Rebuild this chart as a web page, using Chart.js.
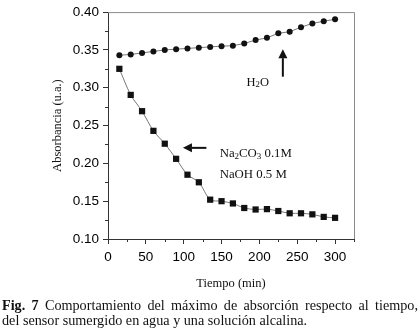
<!DOCTYPE html>
<html>
<head>
<meta charset="utf-8">
<script src="https://cdn.jsdelivr.net/npm/chart.js@4"></script>
<style>
  html, body { margin: 0; padding: 0; background: #fff; }
  #wrap { position: relative; width: 420px; height: 334px; overflow: hidden; }
  #cap {
    position: absolute; left: 2px; top: 298px; width: 416px;
    font-family: 'Liberation Serif', serif; font-size: 14.2px; line-height: 15px;
    color: #111; white-space: nowrap;
  }
  #cap .l1 { text-align: justify; text-align-last: justify; }
  #cap b { font-weight: 700; }
</style>
</head>
<body>
<div id="wrap">
  <canvas id="c" width="420" height="334"></canvas>
  <div id="cap">
    <div class="l1"><b>Fig. 7</b> Comportamiento del máximo de absorción respecto al tiempo,</div>
    <div>del sensor sumergido en agua y una solución alcalina.</div>
  </div>
</div>
<script>
// Tiempo (min)
const tiempo = [15, 30, 45, 60, 75, 90, 105, 120, 135, 150, 165, 180, 195, 210, 225, 240, 255, 270, 285, 300];
// Absorbancia en agua (circulos)
const agua = [0.343, 0.344, 0.346, 0.348, 0.350, 0.351, 0.352, 0.353, 0.354, 0.355, 0.3555, 0.3586, 0.363, 0.366, 0.372, 0.374, 0.380, 0.385, 0.388, 0.3905];
// Absorbancia en solucion alcalina (cuadrados)
const alcalina = [0.325, 0.2905, 0.269, 0.243, 0.226, 0.206, 0.185, 0.175, 0.152, 0.150, 0.147, 0.141, 0.139, 0.1395, 0.137, 0.134, 0.134, 0.1326, 0.1292, 0.128];

const xTicks = [0, 50, 100, 150, 200, 250, 300];
const yTicks = [0.10, 0.15, 0.20, 0.25, 0.30, 0.35, 0.40];

const AXIS = '#333';
const FRAME = '#8a8a8a';
const SERIF = "'Liberation Serif', 'Times New Roman', serif";
const SANS = "'Liberation Sans', Arial, sans-serif";

// minor ticks + top/right frame
const frame = {
  id: 'frame',
  afterDraw(chart) {
    const { ctx, chartArea: a, scales: { x, y } } = chart;
    ctx.save();
    ctx.strokeStyle = FRAME;
    ctx.lineWidth = 1;
    ctx.beginPath();
    ctx.moveTo(a.left, a.top + 0.5);
    ctx.lineTo(a.right + 0.5, a.top + 0.5);
    ctx.lineTo(a.right + 0.5, a.bottom);
    ctx.stroke();

    ctx.strokeStyle = AXIS;
    ctx.beginPath();
    for (let i = 0; i < xTicks.length; i++) {
      const v = xTicks[i] + 25;
      if (v > x.max) continue;
      const px = Math.round(x.getPixelForValue(v)) + 0.5;
      ctx.moveTo(px, a.bottom);
      ctx.lineTo(px, a.bottom + 3);
    }
    for (let i = 0; i < yTicks.length - 1; i++) {
      const py = Math.round(y.getPixelForValue(yTicks[i] + 0.025)) + 0.5;
      ctx.moveTo(a.left, py);
      ctx.lineTo(a.left - 3, py);
    }
    ctx.stroke();
    ctx.restore();
  }
};

// text with subscripts: parts = [[text, isSub], ...]
function runs(ctx, parts, x, y, size) {
  let cx = x;
  parts.forEach(([t, sub]) => {
    ctx.font = (sub ? size * 0.7 : size) + 'px ' + SERIF;
    ctx.fillText(t, cx, sub ? y + size * 0.22 : y);
    cx += ctx.measureText(t).width;
  });
}

function arrow(ctx, x1, y1, x2, y2) {
  const ang = Math.atan2(y2 - y1, x2 - x1);
  const hl = 9, hw = 4.5;
  const bx = x2 - hl * Math.cos(ang), by = y2 - hl * Math.sin(ang);
  ctx.beginPath();
  ctx.moveTo(x1, y1);
  ctx.lineTo(bx, by);
  ctx.stroke();
  ctx.beginPath();
  ctx.moveTo(x2, y2);
  ctx.lineTo(bx + hw * Math.sin(ang), by - hw * Math.cos(ang));
  ctx.lineTo(bx - hw * Math.sin(ang), by + hw * Math.cos(ang));
  ctx.closePath();
  ctx.fill();
}

const notes = {
  id: 'notes',
  afterDraw(chart) {
    const { ctx, scales: { x, y } } = chart;
    ctx.save();
    ctx.fillStyle = '#111';
    ctx.strokeStyle = '#111';
    ctx.lineWidth = 2;
    ctx.textBaseline = 'middle';
    // H2O
    arrow(ctx, x.getPixelForValue(231), y.getPixelForValue(0.3146), x.getPixelForValue(231), y.getPixelForValue(0.351));
    runs(ctx, [['H', 0], ['2', 1], ['O', 0]], x.getPixelForValue(183), y.getPixelForValue(0.3072), 12.5);
    // alcalina
    arrow(ctx, x.getPixelForValue(130), y.getPixelForValue(0.2205), x.getPixelForValue(99), y.getPixelForValue(0.2205));
    runs(ctx, [['Na', 0], ['2', 1], ['CO', 0], ['3', 1], [' 0.1M', 0]], x.getPixelForValue(147.5), y.getPixelForValue(0.2128), 12.8);
    runs(ctx, [['NaOH 0.5 M', 0]], x.getPixelForValue(147.5), y.getPixelForValue(0.1856), 12.8);
    ctx.restore();
  }
};

new Chart(document.getElementById('c'), {
  type: 'line',
  data: {
    datasets: [
      {
        label: 'H2O',
        data: tiempo.map((t, i) => ({ x: t, y: agua[i] })),
        borderColor: '#777',
        borderWidth: 1,
        pointStyle: 'circle',
        pointRadius: 3,
        pointBackgroundColor: '#111',
        pointBorderColor: '#111',
        pointBorderWidth: 0,
        tension: 0
      },
      {
        label: 'Na2CO3 / NaOH',
        data: tiempo.map((t, i) => ({ x: t, y: alcalina[i] })),
        borderColor: '#777',
        borderWidth: 1,
        pointStyle: 'rect',
        pointRadius: 4.4,
        pointBackgroundColor: '#111',
        pointBorderColor: '#111',
        pointBorderWidth: 0,
        tension: 0.3
      }
    ]
  },
  plugins: [frame, notes],
  options: {
    responsive: false,
    animation: false,
    devicePixelRatio: 1,
    layout: { padding: { left: 0, top: 7, right: 66, bottom: 40 } },
    plugins: { legend: { display: false }, tooltip: { enabled: false } },
    scales: {
      x: {
        type: 'linear',
        min: 0,
        max: 325,
        afterFit: s => { s.height = 55; },
        afterBuildTicks: s => { s.ticks = xTicks.map(v => ({ value: v })); },
        border: { color: AXIS, width: 1 },
        grid: { drawOnChartArea: false, tickLength: 5, color: AXIS },
        ticks: { color: '#000', padding: 5, font: { family: SANS, size: 13.5 }, maxRotation: 0 },
        title: { display: true, text: 'Tiempo (min)', color: '#111', padding: { top: 0, bottom: 3 }, font: { family: SERIF, size: 12.5 } }
      },
      y: {
        type: 'linear',
        min: 0.10,
        max: 0.40,
        afterFit: s => { s.width = 108; },
        afterBuildTicks: s => { s.ticks = yTicks.map(v => ({ value: v })); },
        border: { color: AXIS, width: 1 },
        grid: { drawOnChartArea: false, tickLength: 5, color: AXIS },
        ticks: { color: '#000', padding: 4, font: { family: SANS, size: 13.5 }, callback: v => v.toFixed(2) },
        title: { display: true, text: 'Absorbancia (u.a.)', color: '#111', padding: { top: 50, bottom: 0 }, font: { family: SERIF, size: 12.5 } }
      }
    }
  }
});
</script>
</body>
</html>
